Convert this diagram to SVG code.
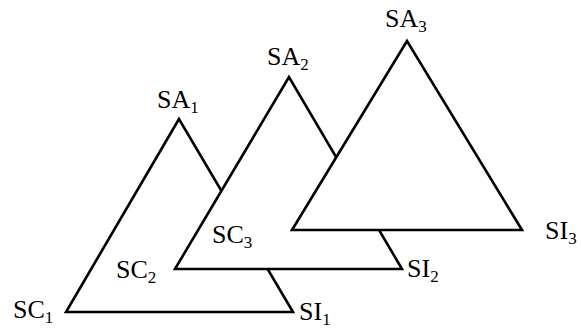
<svg xmlns="http://www.w3.org/2000/svg" width="581" height="329" viewBox="0 0 581 329">
<style>
.tri{fill:#fff;stroke:#000;stroke-width:2.6;stroke-linejoin:miter}
.lbl{font-family:"Liberation Serif","Times New Roman",serif;font-size:26px;fill:#000}
.sub{font-size:17px}
</style>
<rect width="581" height="329" fill="#fff"/>
<g id="connectors"></g>
<g id="tri1"><polygon class="tri" points="179,119 66,312 293,312"/></g>
<g id="tri2"><polygon class="tri" points="289,77 175,269 402,269"/></g>
<g id="tri3"><polygon class="tri" points="407,41 292,230 522,230"/></g>
<g id="labels">
<text class="lbl" x="157" y="108">SA<tspan class="sub" dy="5">1</tspan></text>
<text class="lbl" x="267" y="65">SA<tspan class="sub" dy="5">2</tspan></text>
<text class="lbl" x="385" y="27">SA<tspan class="sub" dy="5">3</tspan></text>
<text class="lbl" x="13" y="318">SC<tspan class="sub" dy="5">1</tspan></text>
<text class="lbl" x="116" y="278">SC<tspan class="sub" dy="5">2</tspan></text>
<text class="lbl" x="212" y="243">SC<tspan class="sub" dy="5">3</tspan></text>
<text class="lbl" x="299" y="320">SI<tspan class="sub" dy="5">1</tspan></text>
<text class="lbl" x="407" y="277">SI<tspan class="sub" dy="5">2</tspan></text>
<text class="lbl" x="545" y="239">SI<tspan class="sub" dy="5">3</tspan></text>
</g>
</svg>
